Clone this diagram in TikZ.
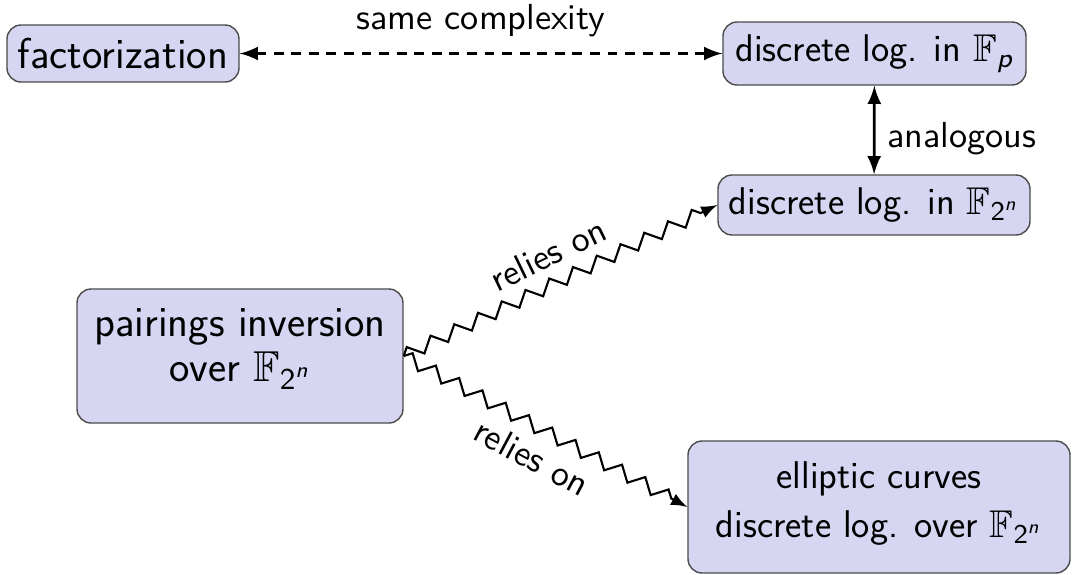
\documentclass[tikz,border=0pt]{standalone}
\usepackage{fontspec}
\usepackage{amsmath,amssymb}
\usepackage{tikz}
\usetikzlibrary{decorations.pathmorphing}

\newfontfamily\boxfont{lmsans17-regular.otf}[ItalicFont=lmsans17-oblique.otf]
\definecolor{boxfill}{RGB}{214,214,242}
\newcommand{\sfvar}[1]{\textsf{\itshape #1}}
\newcommand{\Fp}{\ensuremath{\mathbb{F}_{\sfvar{p}}}}
\newcommand{\Ftwon}{\ensuremath{\mathbb{F}_{\textsf{2}^{\sfvar{n}}}}}
\newcommand{\lowpad}[1]{\rule[-#1]{0pt}{0pt}}

\tikzset{
  problem/.style={draw=black!70, fill=boxfill, rounded corners=4pt, align=center,
    font=\boxfont\fontsize{11}{13.9}\selectfont, inner xsep=3pt},
  bigproblem/.style={problem, font=\boxfont\fontsize{12.3}{12.8}\selectfont},
  link/.style={font=\sffamily\fontsize{10.3}{12}\selectfont},
  relies/.style={->, >=latex, semithick, decorate,
    decoration={zigzag, segment length=7.5pt, amplitude=1.9pt, post length=3pt}},
}

\begin{document}
\begin{tikzpicture}
    \useasboundingbox (0,0) rectangle (10.76,-5.74);

    % the five problems
    \node[bigproblem, minimum width=2.32cm, minimum height=0.57cm] (fact) at (1.23,-0.535) {factorization};
    \node[problem, minimum width=3.03cm, minimum height=0.63cm] (dlp) at (8.745,-0.535) {discrete log. in \Fp};
    \node[problem, minimum width=3.12cm, minimum height=0.60cm] (dlbin) at (8.74,-2.05) {discrete log. in \Ftwon};
    \node[bigproblem, minimum width=3.26cm, minimum height=1.34cm] (pair) at (2.40,-3.56) {pairings inversion\\ over \Ftwon\lowpad{6pt}};
    \node[problem, minimum width=3.82cm, minimum height=1.32cm] (ecdl) at (8.79,-5.07) {elliptic curves\\ discrete log. over \Ftwon\lowpad{4pt}};

    % how they relate
    \draw[<->, >=latex, thick, dash pattern=on 2.8pt off 2.2pt] (fact) -- node[link, above=1pt] {same complexity} (dlp);
    \draw[<->, >=latex, thick] (dlp) -- node[link, right, pos=0.6] {analogous} (dlbin);
    \draw[relies] (pair.east) -- node[link, above=1pt, sloped] {relies on} (dlbin.west);
    \draw[relies] (pair.east) -- node[link, below=1pt, sloped] {relies on} (ecdl.west);
\end{tikzpicture}
\end{document}
